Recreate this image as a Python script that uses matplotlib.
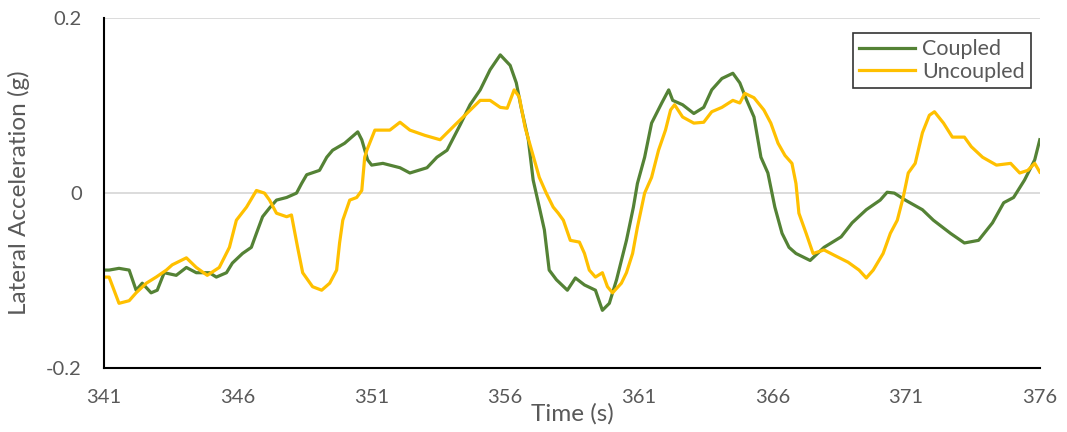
import matplotlib
matplotlib.use("Agg")
import matplotlib.pyplot as plt

# Coupled (green) trace
coupled_t = [341.00, 341.19, 341.56, 341.94, 342.20, 342.43, 342.76, 342.99, 343.25, 343.70,
             344.08, 344.45, 344.94, 345.20, 345.58, 345.80, 346.18, 346.51, 346.70, 346.93,
             347.19, 347.45, 347.83, 348.20, 348.39, 348.58, 349.06, 349.33, 349.55, 350.00,
             350.49, 350.64, 350.86, 351.01, 351.43, 352.07, 352.44, 353.08, 353.45, 353.83,
             354.32, 354.69, 355.07, 355.44, 355.82, 356.19, 356.42, 356.60, 356.87, 357.05,
             357.28, 357.47, 357.65, 357.92, 358.33, 358.63, 358.97, 359.38, 359.64, 359.90,
             360.17, 360.54, 360.80, 360.95, 361.22, 361.48, 361.86, 362.12, 362.27, 362.64,
             363.06, 363.43, 363.73, 364.11, 364.52, 364.78, 365.04, 365.31, 365.57, 365.83,
             366.09, 366.36, 366.62, 366.88, 367.41, 367.93, 368.57, 368.98, 369.51, 370.03,
             370.29, 370.56, 370.97, 371.61, 372.02, 372.66, 373.18, 373.71, 374.23, 374.65,
             375.02, 375.43, 375.81, 376.00]
coupled_g = [-0.088, -0.088, -0.086, -0.088, -0.111, -0.103, -0.114, -0.111, -0.091, -0.094,
             -0.085, -0.091, -0.091, -0.096, -0.091, -0.080, -0.069, -0.062, -0.046, -0.027,
             -0.017, -0.008, -0.005, 0.000, 0.011, 0.021, 0.026, 0.041, 0.049, 0.057,
             0.070, 0.061, 0.038, 0.032, 0.034, 0.029, 0.023, 0.029, 0.041, 0.049,
             0.078, 0.101, 0.118, 0.141, 0.158, 0.146, 0.126, 0.098, 0.061, 0.015,
             -0.016, -0.042, -0.088, -0.099, -0.111, -0.097, -0.105, -0.111, -0.134, -0.126,
             -0.099, -0.054, -0.016, 0.011, 0.041, 0.080, 0.103, 0.118, 0.106, 0.101,
             0.091, 0.098, 0.118, 0.131, 0.137, 0.126, 0.106, 0.087, 0.041, 0.023,
             -0.016, -0.046, -0.062, -0.069, -0.077, -0.062, -0.050, -0.034, -0.019, -0.008,
             0.001, 0.000, -0.008, -0.019, -0.031, -0.046, -0.057, -0.054, -0.034, -0.011,
             -0.005, 0.015, 0.038, 0.061]

# Uncoupled (yellow) trace
uncoupled_t = [341.00, 341.19, 341.56, 341.94, 342.20, 342.58, 342.95, 343.33, 343.55, 344.08,
               344.45, 344.86, 345.31, 345.69, 345.95, 346.33, 346.70, 347.00, 347.19, 347.45,
               347.83, 348.01, 348.24, 348.43, 348.80, 349.14, 349.44, 349.70, 349.81, 349.93,
               350.19, 350.45, 350.64, 350.75, 350.83, 351.13, 351.69, 352.07, 352.44, 353.00,
               353.57, 354.13, 354.50, 355.07, 355.44, 355.82, 356.08, 356.34, 356.53, 356.75,
               357.02, 357.28, 357.54, 357.80, 357.99, 358.18, 358.44, 358.78, 358.97, 359.15,
               359.38, 359.64, 359.83, 360.02, 360.35, 360.54, 360.77, 360.95, 361.22, 361.48,
               361.74, 362.00, 362.19, 362.34, 362.64, 363.06, 363.43, 363.73, 364.11, 364.52,
               364.78, 364.97, 365.31, 365.68, 365.94, 366.21, 366.47, 366.73, 366.88, 366.99,
               367.26, 367.52, 367.93, 368.31, 368.83, 369.24, 369.51, 369.77, 370.14, 370.41,
               370.67, 370.89, 371.08, 371.34, 371.61, 371.87, 372.06, 372.40, 372.73, 373.18,
               373.44, 373.86, 374.38, 374.91, 375.25, 375.55, 375.81, 376.00]
uncoupled_g = [-0.096, -0.096, -0.126, -0.123, -0.114, -0.103, -0.096, -0.088, -0.082, -0.074,
               -0.085, -0.094, -0.085, -0.062, -0.031, -0.016, 0.003, 0.000, -0.008, -0.023,
               -0.027, -0.025, -0.062, -0.091, -0.107, -0.111, -0.103, -0.088, -0.057, -0.031,
               -0.008, -0.005, 0.003, 0.041, 0.049, 0.072, 0.072, 0.081, 0.072, 0.066,
               0.061, 0.078, 0.089, 0.106, 0.106, 0.098, 0.097, 0.118, 0.110, 0.075,
               0.046, 0.018, 0.000, -0.016, -0.023, -0.031, -0.054, -0.056, -0.069, -0.088,
               -0.096, -0.091, -0.107, -0.114, -0.103, -0.091, -0.069, -0.039, 0.000, 0.018,
               0.049, 0.072, 0.095, 0.101, 0.087, 0.080, 0.081, 0.093, 0.098, 0.106,
               0.103, 0.114, 0.109, 0.095, 0.080, 0.057, 0.043, 0.034, 0.011, -0.023,
               -0.046, -0.069, -0.065, -0.071, -0.079, -0.088, -0.097, -0.088, -0.069, -0.046,
               -0.031, -0.005, 0.023, 0.034, 0.069, 0.089, 0.093, 0.080, 0.064, 0.064,
               0.053, 0.041, 0.032, 0.034, 0.023, 0.026, 0.034, 0.024]

x_ticks = [341, 346, 351, 356, 361, 366, 371, 376]
y_ticks = [-0.2, 0, 0.2]
y_labels = ["-0.2", "0", "0.2"]

text_col = "#595959"
plt.rcParams['font.family'] = ['Lato', 'DejaVu Sans']

fig = plt.figure(figsize=(10.67, 4.32), dpi=100)
ax = fig.add_axes([0.0975, 0.148, 0.877, 0.810])

ax.plot(coupled_t, coupled_g, color="#548235", lw=2.3, label="Coupled")
ax.plot(uncoupled_t, uncoupled_g, color="#FFC000", lw=2.3, label="Uncoupled")

ax.set_xlim(341, 376)
ax.set_ylim(-0.2, 0.2)
ax.set_xticks(x_ticks)
ax.set_yticks(y_ticks)
ax.set_yticklabels(y_labels)
ax.tick_params(length=0, labelsize=14.5, colors=text_col)
ax.tick_params(axis='y', pad=16)
ax.tick_params(axis='x', pad=15)

ax.grid(axis='y', color="#D9D9D9", lw=1.3)
ax.set_axisbelow(True)
for s in ['top', 'right']:
    ax.spines[s].set_visible(False)
for s in ['left', 'bottom']:
    ax.spines[s].set_color('black')
    ax.spines[s].set_linewidth(1.5)

ax.set_xlabel("Time (s)", fontsize=17.5, color=text_col)
ax.xaxis.set_label_coords(0.5, -0.10)
ax.set_ylabel("Lateral Acceleration (g)", fontsize=17.5, color=text_col)
ax.yaxis.set_label_coords(-0.079, 0.5)

leg = ax.legend(loc='upper right', bbox_to_anchor=(1031 / 1067, 1 - 33 / 432),
                bbox_transform=fig.transFigure, borderaxespad=0, fancybox=False,
                fontsize=15.5, handlelength=2.6, handletextpad=0.3,
                labelspacing=0.1, borderpad=0.3, labelcolor=text_col)
leg.get_frame().set_edgecolor('black')
leg.get_frame().set_linewidth(1.2)

fig.savefig("out.png", dpi=100)
